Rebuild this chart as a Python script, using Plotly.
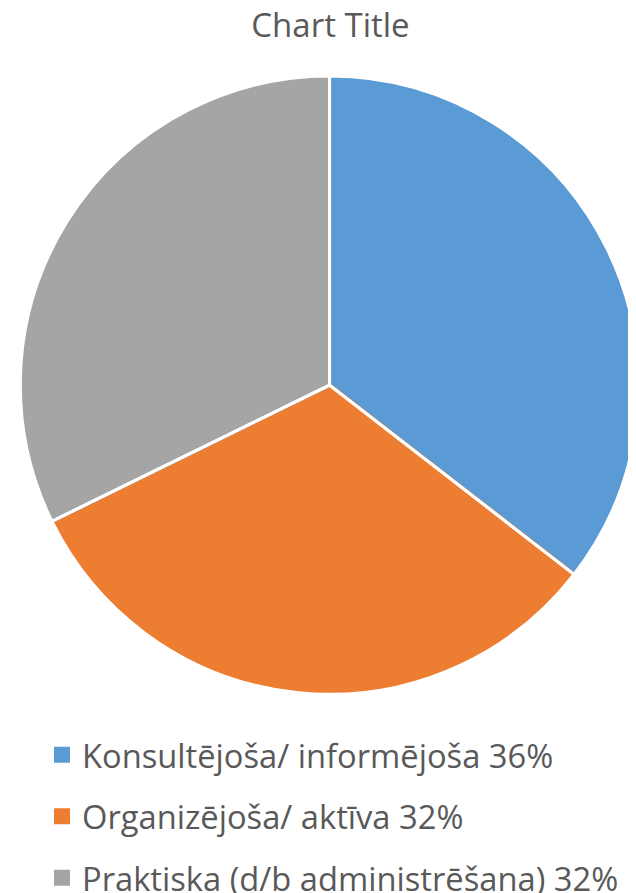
import plotly.graph_objects as go

categories = ["Konsultējoša/ informējoša", "Organizējoša/ aktīva", "Praktiska (d/b administrēšana)"]
percent_labels = ["36%", "32%", "32%"]
values = [11, 10, 10]
colors = ["#5B9BD5", "#ED7D31", "#A5A5A5"]

labels = [f"{c} {p}" for c, p in zip(categories, percent_labels)]

W, H = 636, 960
pie_domain = dict(x=[14/W, 629/W], y=[1 - 685/H, 1 - 70/H])
sep_domain = dict(x=[12/W, 631/W], y=[1 - 687/H, 1 - 68/H])

fig = go.Figure()
# main pie: outline in the slice colour so the legend squares look solid
fig.add_trace(go.Pie(
    labels=labels, values=values, sort=False, direction="clockwise", rotation=0,
    marker=dict(colors=colors, line=dict(color=colors, width=4)),
    textinfo="none", hoverinfo="label+percent",
    domain=pie_domain,
))
# overlay pie drawing only the white slice separators
fig.add_trace(go.Pie(
    labels=labels, values=values, sort=False, direction="clockwise", rotation=0,
    marker=dict(colors=["rgba(0,0,0,0)"] * len(values), line=dict(color="white", width=3)),
    textinfo="none", hoverinfo="skip", showlegend=False,
    domain=sep_domain,
))
# invisible helper entry so each slice forms its own legend group (allows row gap)
fig.add_trace(go.Scatter(x=[None], y=[None], mode="markers", name=" ",
                         legendgroup="helper", marker=dict(color="rgba(0,0,0,0)"),
                         hoverinfo="skip"))

fig.update_layout(
    width=W, height=H,
    margin=dict(l=0, r=0, t=0, b=0),
    paper_bgcolor="white", plot_bgcolor="white",
    font=dict(family="Open Sans", color="#595959"),
    title=dict(text="Chart Title", x=322.5/W, xanchor="center", y=1 - 17.5/H, yanchor="middle",
               font=dict(size=33, color="#595959", family="Open Sans")),
    xaxis=dict(visible=False), yaxis=dict(visible=False),
    legend=dict(x=34/W, xanchor="left", y=1 - 720/H, yanchor="top",
                traceorder="grouped", tracegroupgap=16,
                font=dict(size=32.7, color="#595959", family="Open Sans"),
                bgcolor="rgba(0,0,0,0)"),
    showlegend=True,
)
fig.write_html("out.html")
